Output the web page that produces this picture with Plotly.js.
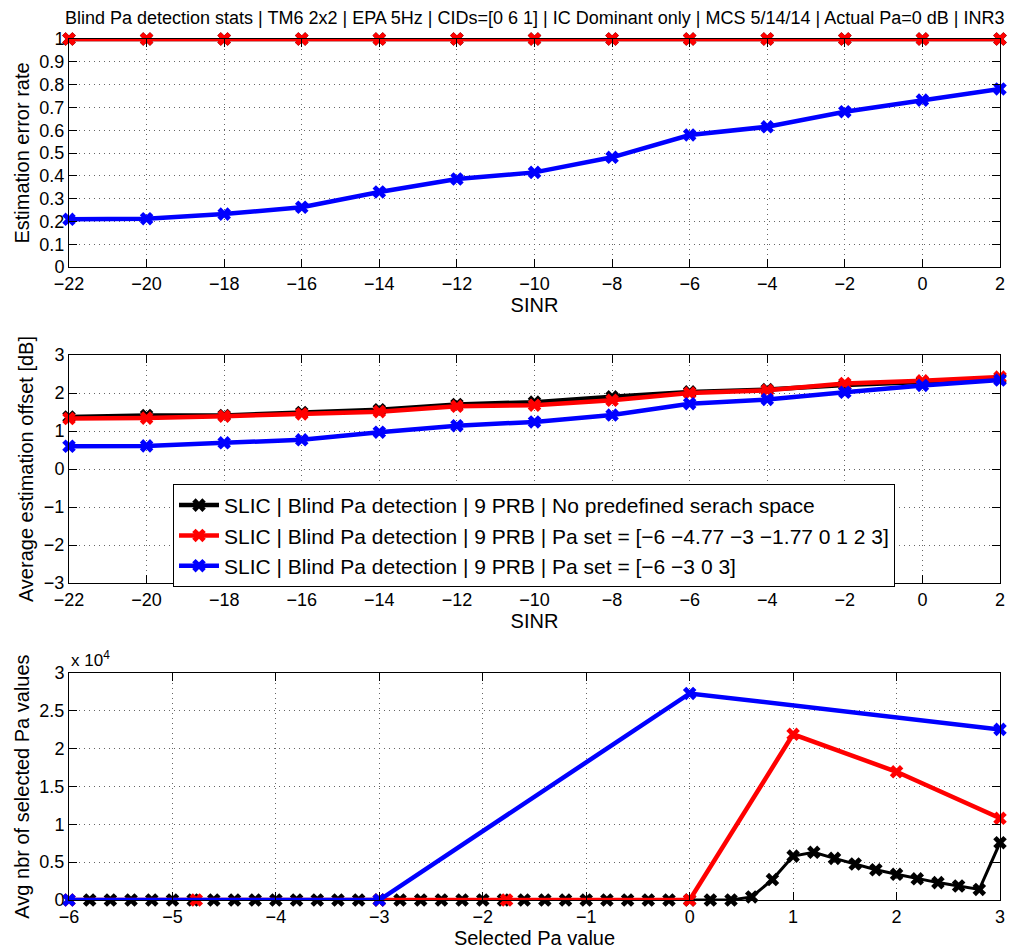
<!DOCTYPE html>
<html><head><meta charset="utf-8">
<script src="https://cdn.plot.ly/plotly-3.0.1.min.js"></script>
<style>html,body{margin:0;padding:0;background:#fff}</style>
</head><body>
<div id="chart" style="width:1018px;height:952px"></div>
<script>
// ---- data ----
const sinr = [-22,-20,-18,-16,-14,-12,-10,-8,-6,-4,-2,0,2];
const errBlack = [1,1,1,1,1,1,1,1,1,1,1,1,1];
const errRed   = [1,1,1,1,1,1,1,1,1,1,1,1,1];
const errBlue  = [0.209,0.212,0.232,0.262,0.329,0.386,0.415,0.481,0.579,0.615,0.681,0.732,0.781];

const offBlack = [1.37,1.41,1.41,1.49,1.56,1.70,1.76,1.90,2.03,2.09,2.21,2.29,2.38];
const offRed   = [1.33,1.34,1.39,1.45,1.51,1.65,1.68,1.81,2.00,2.07,2.25,2.32,2.42];
const offBlue  = [0.60,0.61,0.69,0.77,0.97,1.14,1.24,1.42,1.72,1.83,2.02,2.20,2.34];

const paBlackX = [-5.8,-5.6,-5.4,-5.2,-5.0,-4.8,-4.6,-4.4,-4.2,-4.0,-3.8,-3.6,-3.4,-3.2,-3.0,
  -2.8,-2.6,-2.4,-2.2,-2.0,-1.8,-1.6,-1.4,-1.2,-1.0,-0.8,-0.6,-0.4,-0.2,0.0,
  0.2,0.4,0.6,0.8,1.0,1.2,1.4,1.6,1.8,2.0,2.2,2.4,2.6,2.8,3.0];
const paBlackY = [0,0,0,0,0,0,0,0,0,0,0,0,0,0,0,
  0,0,0,0,0,0,0,0,0,0,0,0,0,0,0,
  0,0,400,2700,5800,6300,5500,4760,4000,3400,2800,2300,1850,1400,7570];
const paRedX = [-6,-4.77,-3,-1.77,0,1,2,3];
const paRedY = [0,0,0,0,0,21900,16950,10800];
const paBlueX = [-6,-3,0,3];
const paBlueY = [0,0,27300,22550];

const names = [
  'SLIC | Blind Pa detection | 9 PRB | No predefined serach space',
  'SLIC | Blind Pa detection | 9 PRB | Pa set = [\u22126 \u22124.77 \u22123 \u22121.77 0 1 2 3]',
  'SLIC | Blind Pa detection | 9 PRB | Pa set = [\u22126 \u22123 0 3]'
];
const yTickVals = [0,5000,10000,15000,20000,25000,30000];
const yTickText = ['0','0.5','1','1.5','2','2.5','3'];

// ---- styles ----
const colors = ['#000000','#ff0000','#0000ff'];
const FONT = 'Liberation Sans, Arial, Helvetica, sans-serif';

function tr(x, y, i, xa, ya, show, lw) {
  return {
    x: x, y: y, xaxis: xa, yaxis: ya, type: 'scatter', mode: 'lines+markers',
    name: names[i], legendgroup: 'g' + i, showlegend: show, cliponaxis: false,
    line: {color: colors[i], width: lw || 4.5},
    marker: {symbol: 'x', size: 12, color: colors[i], line: {width: 0}}
  };
}

const data = [
  tr(sinr, errBlack, 0, 'x', 'y', false),
  tr(sinr, errRed, 1, 'x', 'y', false),
  tr(sinr, errBlue, 2, 'x', 'y', false),
  tr(sinr, offBlack, 0, 'x2', 'y2', true),
  tr(sinr, offRed, 1, 'x2', 'y2', true),
  tr(sinr, offBlue, 2, 'x2', 'y2', true),
  tr(paBlackX, paBlackY, 0, 'x3', 'y3', false, 3),
  tr(paRedX, paRedY, 1, 'x3', 'y3', false, 4.5),
  tr(paBlueX, paBlueY, 2, 'x3', 'y3', false, 4.5)
];

const axBase = {
  showline: true, linecolor: '#000', linewidth: 1, mirror: 'ticks',
  ticks: 'inside', ticklen: 8, tickcolor: '#000', tickwidth: 1,
  showgrid: true, gridcolor: '#666', griddash: '1px,4px', gridwidth: 1,
  zeroline: false, tickfont: {family: FONT, size: 18, color: '#000'},
  automargin: false
};
function ax(extra) { return Object.assign({}, axBase, extra); }
const titleFont = {family: FONT, size: 20, color: '#000'};

const layout = {
  width: 1018, height: 952,
  margin: {l: 69, r: 18, t: 39, b: 52},
  paper_bgcolor: '#fff', plot_bgcolor: '#fff',
  font: {family: FONT, color: '#000'},
  showlegend: true,
  legend: {
    x: 0.1117, y: 0.4832, xanchor: 'left', yanchor: 'top',
    bgcolor: '#fff', bordercolor: '#000', borderwidth: 1,
    font: {family: FONT, size: 21, color: '#000'},
    itemwidth: 40, tracegroupgap: 0
  },
  xaxis: ax({domain: [0, 1], anchor: 'y', range: [-22, 2], tickvals: sinr,
    title: {text: 'SINR', font: titleFont, standoff: 0}}),
  yaxis: ax({domain: [0.7352, 1], anchor: 'x', range: [0, 1], dtick: 0.1, tick0: 0,
    title: {text: 'Estimation error rate', font: titleFont, standoff: 4}}),
  xaxis2: ax({domain: [0, 1], anchor: 'y2', range: [-22, 2], tickvals: sinr,
    title: {text: 'SINR', font: titleFont, standoff: 0}}),
  yaxis2: ax({domain: [0.368, 0.633], anchor: 'x2', range: [-3, 3], dtick: 1, tick0: 0,
    title: {text: 'Average estimation offset [dB]', font: titleFont, standoff: 4}}),
  xaxis3: ax({domain: [0, 1], anchor: 'y3', range: [-6, 3], dtick: 1, tick0: 0,
    title: {text: 'Selected Pa value', font: titleFont, standoff: 0}}),
  yaxis3: ax({domain: [0, 0.2636], anchor: 'x3', range: [0, 30000],
    tickvals: yTickVals, ticktext: yTickText,
    title: {text: 'Avg nbr of selected Pa values', font: titleFont, standoff: 4}}),
  annotations: [
    {text: 'Blind Pa detection stats | TM6 2x2 | EPA 5Hz | CIDs=[0 6 1] | IC Dominant only | MCS 5/14/14 | Actual Pa=0 dB | INR3',
     xref: 'paper', yref: 'paper', x: 0.5, y: 1, xanchor: 'center', yanchor: 'bottom', yshift: 9,
     showarrow: false, font: {family: FONT, size: 18, color: '#000'}},
    {text: 'x 10<sup>4</sup>', xref: 'paper', yref: 'paper', x: 0, y: 0.2636,
     xanchor: 'left', yanchor: 'bottom', yshift: 1, showarrow: false,
     font: {family: FONT, size: 17, color: '#000'}}
  ]
};

Plotly.newPlot('chart', data, layout, {displayModeBar: false, staticPlot: true});
</script>
</body></html>
